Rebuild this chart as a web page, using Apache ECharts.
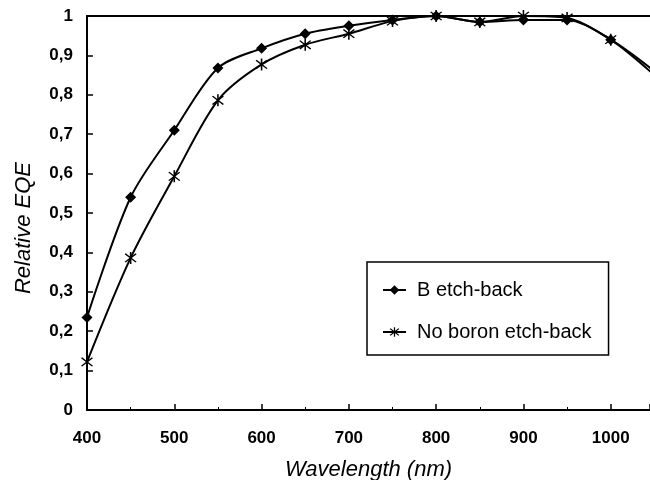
<!DOCTYPE html>
<html>
<head>
<meta charset="utf-8">
<script src="https://cdn.jsdelivr.net/npm/echarts@6/dist/echarts.min.js"></script>
<style>
  html, body { margin: 0; padding: 0; background: #fff; }
  #main { width: 650px; height: 480px; }
</style>
</head>
<body>
<div id="main"></div>
<script>
// values
var wavelength = [400, 450, 500, 550, 600, 650, 700, 750, 800, 850, 900, 950, 1000, 1050];
var bEtchBack = [0.235, 0.54, 0.71, 0.868, 0.918, 0.955, 0.975, 0.99, 1.0, 0.985, 0.99, 0.99, 0.94, 0.86];
var noBoron = [0.122, 0.386, 0.593, 0.786, 0.877, 0.927, 0.955, 0.987, 1.0, 0.985, 1.0, 0.995, 0.94, 0.85];
var yTicks = [0, 0.1, 0.2, 0.3, 0.4, 0.5, 0.6, 0.7, 0.8, 0.9, 1];

var asterisk = 'path://M-1,-10L1,-10L1,10L-1,10Z' +
  'M-6.3,-7.7L7.7,6.3L6.3,7.7L-7.7,-6.3Z' +
  'M6.3,-7.7L7.7,-6.3L-6.3,7.7L-7.7,6.3Z';

function pairs(xs, ys) {
  return xs.map(function (x, i) { return [x, ys[i]]; });
}

var chart = echarts.init(document.getElementById('main'));
var bold = { fontFamily: 'Liberation Sans, Arial', fontWeight: 'bold', fontSize: 17, color: '#000' };
var italic = { fontFamily: 'Liberation Sans, Arial', fontStyle: 'italic', fontSize: 22, color: '#000' };

chart.setOption({
  animation: false,
  grid: { left: 87, right: 0, top: 16, bottom: 70, outerBoundsMode: 'none' },
  xAxis: [{
    type: 'value',
    min: 400,
    max: 1045,
    interval: 100,
    name: 'Wavelength (nm)',
    nameLocation: 'middle',
    nameGap: 49,
    nameTextStyle: italic,
    axisLine: { lineStyle: { color: '#000', width: 2 } },
    axisTick: { inside: true, length: 6, lineStyle: { color: '#000', width: 1.5 } },
    minorTick: { show: true, splitNumber: 2, length: 3, lineStyle: { color: '#000', width: 1 } },
    axisLabel: Object.assign({
      margin: 20,
      showMaxLabel: false,
      formatter: function (v) { return String(v); }
    }, bold),
    splitLine: { show: false }
  }, {
    type: 'value',
    position: 'top',
    min: 400,
    max: 1045,
    axisLine: { show: true, lineStyle: { color: '#000', width: 2 } },
    axisTick: { show: false },
    axisLabel: { show: false },
    splitLine: { show: false }
  }],
  yAxis: {
    type: 'value',
    min: 0,
    max: 1,
    interval: 0.1,
    name: 'Relative EQE',
    nameLocation: 'middle',
    nameGap: 52,
    nameTextStyle: Object.assign({ padding: [0, 30, 0, 0] }, italic),
    axisLine: { show: true, lineStyle: { color: '#000', width: 2 } },
    axisTick: { inside: true, length: 6, lineStyle: { color: '#000', width: 1.5 } },
    axisLabel: Object.assign({
      margin: 14,
      customValues: yTicks,
      formatter: function (v) { return String(+v.toFixed(1)).replace('.', ','); }
    }, bold),
    splitLine: { show: false }
  },
  legend: {
    orient: 'vertical',
    left: 367,
    top: 262,
    padding: [18, 17, 13, 15],
    itemGap: 22,
    itemWidth: 23,
    itemHeight: 12,
    borderColor: '#000',
    borderWidth: 1.5,
    borderRadius: 0,
    textStyle: { fontFamily: 'Liberation Sans, Arial', fontSize: 20, color: '#000', padding: [0, 0, 0, 6] },
    data: ['B etch-back', 'No boron etch-back']
  },
  series: [{
    name: 'B etch-back',
    type: 'line',
    smooth: 0.3,
    data: pairs(wavelength, bEtchBack),
    symbol: 'diamond',
    symbolSize: 11,
    showAllSymbol: true,
    itemStyle: { color: '#000' },
    lineStyle: { color: '#000', width: 2 }
  }, {
    name: 'No boron etch-back',
    type: 'line',
    smooth: 0.3,
    data: pairs(wavelength, noBoron),
    symbol: asterisk,
    symbolSize: 12,
    showAllSymbol: true,
    itemStyle: { color: '#000' },
    lineStyle: { color: '#000', width: 2 }
  }]
});
</script>
</body>
</html>
